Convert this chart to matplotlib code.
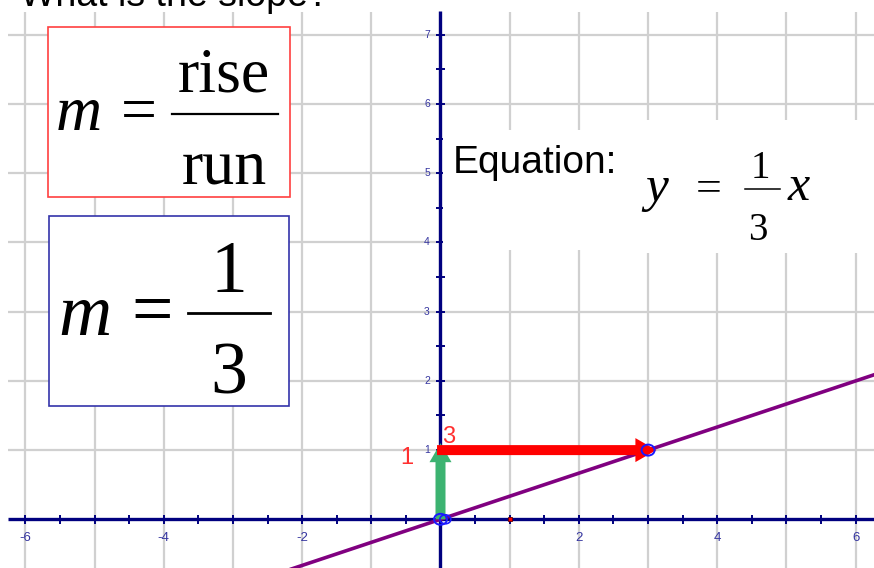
import numpy as np
import matplotlib
matplotlib.use("Agg")
import matplotlib.pyplot as plt
from matplotlib.patches import Rectangle, FancyArrow, Ellipse
from matplotlib.lines import Line2D

# ---------------- data ----------------
line_x = [-2.3, 6.5]              # ends of y = x/3
line_y = [-0.7667, 2.1667]
rise = 1
run = 3
rise_arrow_y = [0.0, 1.10]       # green arrow (tip a bit past 1)
run_arrow_x = [-0.05, 3.12]      # red arrow (tip a bit past 3)
x_tick_values = [-6, -4, -2, 2, 4, 6]
x_tick_labels = ["-6", "-4", "-2", "2", "4", "6"]
y_tick_values = [1, 2, 3, 4, 5, 6, 7]
y_tick_labels = ["1", "2", "3", "4", "5", "6", "7"]
grid_x = [-6, -5, -4, -3, -2, -1, 0, 1, 2, 3, 4, 5, 6]
grid_y = [1, 2, 3, 4, 5, 6, 7]
minor_x = [-6, -5.5, -5, -4.5, -4, -3.5, -3, -2.5, -2, -1.5, -1, -0.5,
           0.5, 1, 1.5, 2, 2.5, 3, 3.5, 4, 4.5, 5, 5.5, 6]
minor_y = [0.5, 1, 1.5, 2, 2.5, 3, 3.5, 4, 4.5, 5, 5.5, 6, 6.5, 7]
circled_points_x = [0, 3]
circled_points_y = [0, 1]
dot_x = [1]
dot_y = [0]

W, H = 874, 568
X0, Y0, S = 440.5, 519.3, 69.2   # pixel of origin, pixels per unit


def fx(px):
    return px / W


def fy(py):
    return 1 - py / H


fig = plt.figure(figsize=(W / 100, H / 100), dpi=100)
fig.patch.set_facecolor("white")
ax = fig.add_axes([0, 0, 1, 1])
ax.set_xlim(-X0 / S, (W - X0) / S)
ax.set_ylim((Y0 - H) / S, Y0 / S)
ax.axis("off")

gx_left = (8 - X0) / S
gy_top = (Y0 - 12) / S
ybot = (Y0 - H) / S
xright = (W - X0) / S

# grid
grid_c = "#d0d0d0"
ax.vlines(grid_x, ybot, gy_top, colors=grid_c, lw=1.6, zorder=1)
ax.hlines(grid_y, gx_left, xright, colors=grid_c, lw=1.6, zorder=1)

# axes
navy = "#00007f"
ax.plot([gx_left, xright], [0, 0], color=navy, lw=2.4, zorder=3, solid_capstyle="butt")
ax.plot([0, 0], [ybot, (Y0 - 11) / S], color=navy, lw=2.4, zorder=3, solid_capstyle="butt")
tk = 0.068
ax.vlines(minor_x, -tk, tk, colors=navy, lw=1.4, zorder=3)
ax.hlines(minor_y, -tk, tk, colors=navy, lw=1.4, zorder=3)

lab_c = "#3535a0"
for v, tl in zip(x_tick_values, x_tick_labels):
    ax.text(v, -0.27, tl, ha="center", va="center", fontsize=9.5, color=lab_c,
            family="Liberation Sans", zorder=3)
for v, tl in zip(y_tick_values, y_tick_labels):
    ax.text(-0.195, v, tl, ha="center", va="center", fontsize=7.5, color=lab_c,
            family="Liberation Sans", zorder=3)

# line y = x/3
ax.plot(line_x, line_y, color="#800080", lw=2.6, zorder=4)

# arrows
ax.add_patch(FancyArrow(0, rise_arrow_y[0], 0, rise_arrow_y[1] - rise_arrow_y[0],
                        width=10 / S, head_width=22 / S, head_length=19 / S,
                        length_includes_head=True, color="#3cb371", lw=0, zorder=5))
ax.add_patch(FancyArrow(run_arrow_x[0], rise, run_arrow_x[1] - run_arrow_x[0], 0,
                        width=10 / S, head_width=24 / S, head_length=21 / S,
                        length_includes_head=True, color="#ff0000", lw=0, zorder=6))

# circled points and red dot
for cx, cy in zip(circled_points_x, circled_points_y):
    ax.add_patch(Ellipse((cx, cy), 13 / S, 11 / S, fill=False, ec="#1a1aff", lw=1.4, zorder=7))
ax.add_patch(Ellipse((circled_points_x[0] + 0.07, circled_points_y[0]), 11 / S, 9 / S,
                     fill=False, ec="#1a1aff", lw=1.2, zorder=7))
ax.plot(dot_x, dot_y, "s", ms=3.5, mfc="#ff0000", mec="#600000", mew=0.6, zorder=7)

# red labels for rise / run
ax.text((407 - X0) / S, (Y0 - 464) / S, str(rise), ha="center", va="baseline",
        fontsize=17, color="#ff3030", family="Liberation Sans", zorder=8)
ax.text((442 - X0) / S, (Y0 - 443) / S, str(run), ha="left", va="baseline",
        fontsize=17, color="#ff3030", family="Liberation Sans", zorder=8)

# ---------------- annotations ----------------
# partially visible title
fig.text(fx(20), fy(6), "What is the slope?", ha="left", va="baseline",
         fontsize=27, family="Liberation Sans", color="black", zorder=10)

# white backgrounds behind equation
for (x1, y1, x2, y2) in [(443, 130, 640, 250), (640, 120, 874, 253)]:
    fig.add_artist(Rectangle((fx(x1), fy(y2)), fx(x2) - fx(x1), fy(y1) - fy(y2),
                             transform=fig.transFigure, fc="white", ec="none", zorder=5))

# boxes
fig.add_artist(Rectangle((fx(48), fy(197)), fx(290) - fx(48), fy(27) - fy(197),
                         transform=fig.transFigure, fc="white", ec="#ff4040", lw=1.2, zorder=5))
fig.add_artist(Rectangle((fx(49), fy(406)), fx(289) - fx(49), fy(216) - fy(406),
                         transform=fig.transFigure, fc="white", ec="#3333aa", lw=1.2, zorder=5))

serif = "Liberation Serif"


def t(px, py, s, size, italic=False, ha="left"):
    fig.text(fx(px), fy(py), s, ha=ha, va="baseline", fontsize=size, family=serif,
             style="italic" if italic else "normal", color="black", zorder=11)


def bar(x1, x2, py, lw):
    fig.add_artist(Line2D([fx(x1), fx(x2)], [fy(py), fy(py)], transform=fig.transFigure,
                          color="black", lw=lw, zorder=11))


# box 1: m = rise / run
t(56, 130, "m", 46, italic=True)
t(121, 130, "=", 46)
t(224, 92, "rise", 46, ha="center")
t(224, 183, "run", 46, ha="center")
bar(172, 278, 114, 1.6)

# box 2: m = 1/3
t(58, 335, "m", 53, italic=True)
t(131, 333, "=", 53)
t(229, 292, "1", 53, ha="center")
t(229, 393, "3", 53, ha="center")
bar(188, 270, 313, 2.0)

# equation
fig.text(fx(453), fy(173), "Equation:", ha="left", va="baseline", fontsize=28,
         family="Liberation Sans", color="black", zorder=11)
t(645, 201, "y", 37, italic=True)
t(696, 201, "=", 33)
t(760, 178, "1", 28, ha="center")
t(758, 240, "3", 28, ha="center")
bar(745, 780, 189, 1.1)
t(788, 200, "x", 36, italic=True)

fig.savefig("out.png", dpi=100, facecolor="white")
